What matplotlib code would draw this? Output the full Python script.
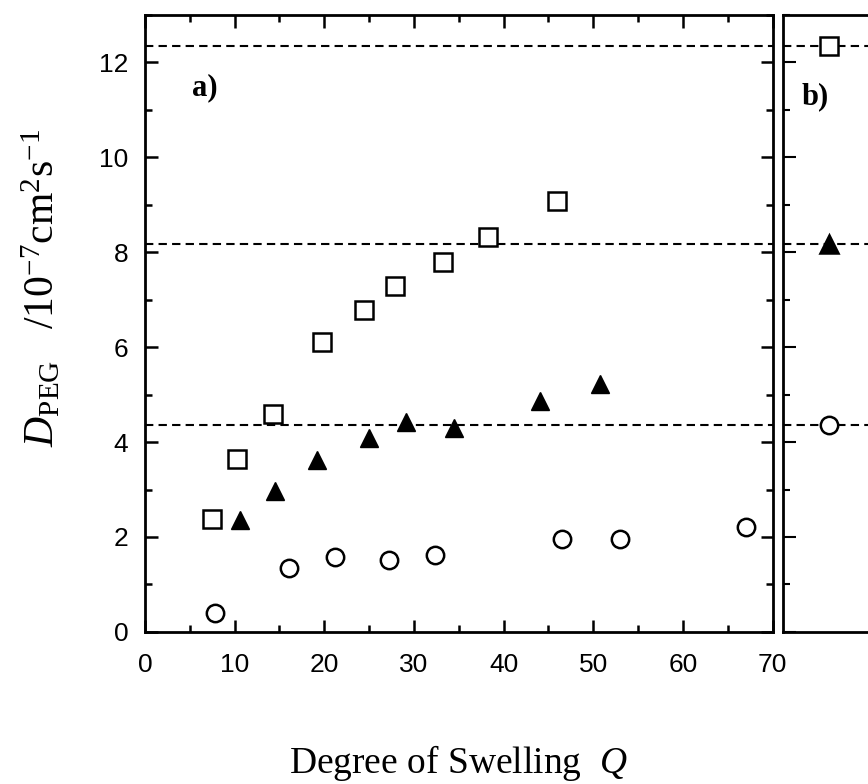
import numpy as np
import matplotlib
matplotlib.use("Agg")
import matplotlib.pyplot as plt
from matplotlib.ticker import MultipleLocator

plt.rcParams['mathtext.fontset'] = 'custom'
plt.rcParams['mathtext.rm'] = 'Liberation Serif'
plt.rcParams['mathtext.it'] = 'Liberation Serif:italic'

# panel a data: D_PEG vs degree of swelling Q
q_sq = [7.5, 10.3, 14.3, 19.8, 24.4, 27.9, 33.3, 38.3, 46.0]
d_sq = [2.38, 3.65, 4.6, 6.1, 6.78, 7.28, 7.8, 8.33, 9.07]
q_tri = [10.6, 14.5, 19.2, 25.0, 29.1, 34.5, 44.1, 50.8]
d_tri = [2.35, 2.97, 3.63, 4.08, 4.42, 4.3, 4.86, 5.23]
q_circ = [7.8, 16.1, 21.2, 27.2, 32.4, 46.5, 53.0, 67.0]
d_circ = [0.4, 1.35, 1.58, 1.52, 1.62, 1.95, 1.95, 2.22]

# panel b: free solution values (also dashed reference lines)
d_free = [12.35, 8.18, 4.35]
b_markers = ['s', '^', 'o']

fig = plt.figure(figsize=(8.68, 7.84), dpi=100)
ax = fig.add_axes([0.167, 0.194, 0.723, 0.787])
axb = fig.add_axes([0.902, 0.194, 0.15, 0.787])

ms = 12.5
ax.plot(q_sq, d_sq, 's', ms=ms, mfc='white', mec='black', mew=1.8, ls='none')
ax.plot(q_tri, d_tri, '^', ms=ms + 1, mfc='black', mec='black', ls='none')
ax.plot(q_circ, d_circ, 'o', ms=ms, mfc='white', mec='black', mew=1.8, ls='none')

for d in d_free:
    ax.axhline(d, color='black', ls=(0, (4, 2.5)), lw=1.5, zorder=0)
    axb.axhline(d, color='black', ls=(0, (4, 2.5)), lw=1.5, zorder=0)

for d, m in zip(d_free, b_markers):
    filled = 'black' if m == '^' else 'white'
    axb.plot([0.35], [d], m, ms=ms + (1 if m == '^' else 0), mfc=filled,
             mec='black', mew=1.8, ls='none')

ax.set_xlim(0, 70)
ax.set_ylim(0, 13)
axb.set_xlim(0, 1)
axb.set_ylim(0, 13)

ax.xaxis.set_major_locator(MultipleLocator(10))
ax.xaxis.set_minor_locator(MultipleLocator(5))
ax.yaxis.set_major_locator(MultipleLocator(2))
ax.yaxis.set_minor_locator(MultipleLocator(1))
ax.tick_params(which='both', direction='in', top=True, right=True, width=1.8)
ax.tick_params(which='major', length=9, labelsize=19)
ax.tick_params(axis='x', which='major', pad=15)
ax.tick_params(axis='y', which='major', pad=12)
ax.tick_params(which='minor', length=5)
for lab in ax.get_xticklabels() + ax.get_yticklabels():
    lab.set_family('Liberation Sans')

axb.set_xticks([])
axb.yaxis.set_major_locator(MultipleLocator(2))
axb.yaxis.set_minor_locator(MultipleLocator(1))
axb.tick_params(which='both', direction='in', left=True, labelleft=False,
                width=1.5)
axb.tick_params(which='major', length=9)
axb.tick_params(which='minor', length=5)

for s in ax.spines.values():
    s.set_linewidth(2)
for s in axb.spines.values():
    s.set_linewidth(2)

serif = 'Liberation Serif'
ax.set_xlabel('Degree of Swelling  $Q$', family=serif, fontsize=27, labelpad=48)
ax.set_ylabel(r'$D$$_{\mathrm{PEG}}$   /10$^{-7}$cm$^{2}$s$^{-1}$', family=serif,
              fontsize=30)
ax.yaxis.set_label_coords(-0.13, 0.557)

ax.text(0.075, 0.87, 'a)', transform=ax.transAxes, family=serif,
        fontweight='bold', fontsize=22)
axb.text(0.14, 0.855, 'b)', transform=axb.transAxes, family=serif,
         fontweight='bold', fontsize=22)

fig.savefig('out.png', dpi=100)
